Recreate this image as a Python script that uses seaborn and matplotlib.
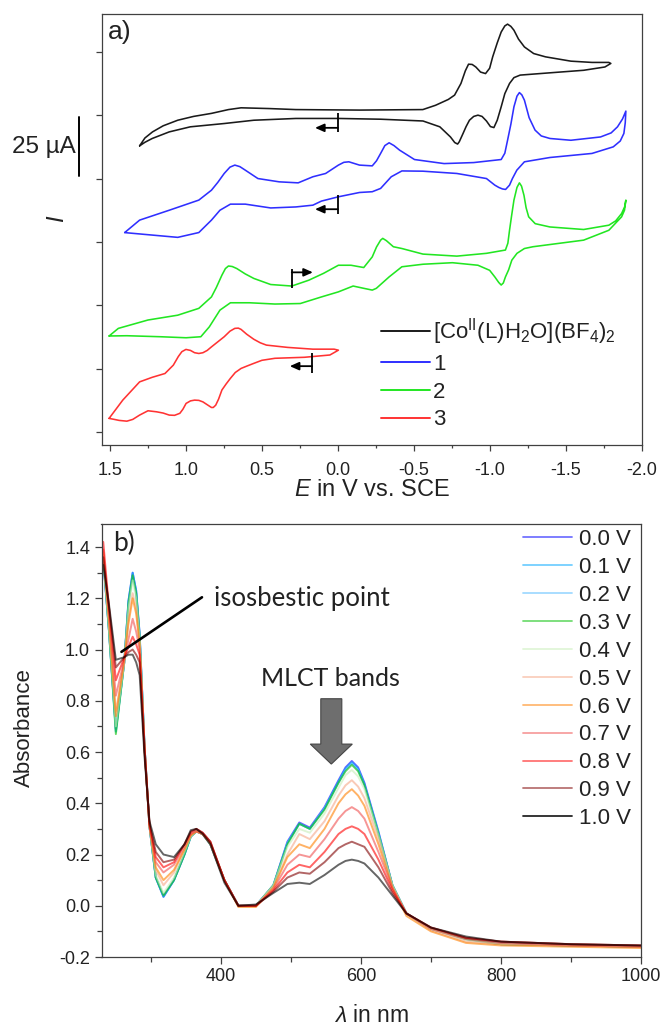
import numpy as np
import pandas as pd
import matplotlib
matplotlib.use("Agg")
import matplotlib.pyplot as plt
import matplotlib.ticker as mticker
import matplotlib.transforms as mtrans
from matplotlib.lines import Line2D
from matplotlib.patches import FancyArrow
import seaborn as sns

# ---------------- data: panel a) cyclic voltammograms (E in V, I in uA, offset) ----------------
E_blk = [1.305, 1.27, 1.22, 1.15, 1.054, 0.95, 0.832, 0.72, 0.637, 0.45,
         0.276, -0.143, -0.56, -0.644, -0.728, -0.769, -0.811, -0.84, -0.861, -0.885,
         -0.909, -0.94, -0.973, -1.0, -1.02, -1.05, -1.076, -1.10, -1.118, -1.14,
         -1.16, -1.19, -1.229, -1.29, -1.368, -1.535, -1.674, -1.785, -1.798, -1.759,
         -1.619, -1.397, -1.201, -1.16, -1.131, -1.10, -1.076, -1.05, -1.028, -1.005,
         -0.979, -0.95, -0.923, -0.895, -0.867, -0.845, -0.825, -0.80, -0.789, -0.77,
         -0.742, -0.672, -0.561, -0.282, -0.004, 0.276, 0.553, 0.748, 0.971, 1.11,
         1.222, 1.27, 1.305]
I_blk = [112.9, 116.0, 118.4, 120.8, 123.0, 124.5, 125.7, 127.2, 127.9, 127.6,
         127.2, 127.0, 127.2, 128.9, 131.2, 132.9, 137.5, 142.5, 145.1, 145.0,
         144.0, 142.0, 141.4, 143.5, 148.0, 153.5, 157.8, 160.2, 160.9, 160.0,
         158.5, 155.0, 151.9, 149.3, 148.0, 146.3, 145.8, 145.8, 145.4, 144.0,
         142.7, 141.7, 140.8, 139.8, 137.5, 133.5, 128.3, 123.0, 120.1, 120.5,
         122.7, 124.5, 125.0, 124.5, 123.0, 120.5, 117.8, 114.5, 113.6, 114.2,
         116.4, 120.4, 122.7, 123.4, 123.7, 123.7, 123.0, 121.7, 120.4, 118.4,
         115.8, 114.3, 112.9]

E_blu = [1.403, 1.305, 1.11, 0.915, 0.832, 0.79, 0.748, 0.71, 0.678, 0.645,
         0.609, 0.526, 0.386, 0.261, 0.164, 0.08, -0.004, -0.04, -0.073, -0.143,
         -0.227, -0.255, -0.282, -0.31, -0.338, -0.37, -0.407, -0.505, -0.70, -0.895,
         -1.076, -1.10, -1.118, -1.14, -1.16, -1.18, -1.196, -1.212, -1.229, -1.26,
         -1.299, -1.34, -1.397, -1.535, -1.73, -1.80, -1.842, -1.875, -1.897,
         -1.893, -1.884, -1.86, -1.814, -1.674, -1.397, -1.229, -1.179, -1.15, -1.131,
         -1.105, -1.084, -1.06, -1.034, -0.979, -0.784, -0.561, -0.422, -0.352, -0.282,
         -0.227, -0.143, -0.004, 0.108, 0.164, 0.276, 0.442, 0.609, 0.707, 0.776,
         0.832, 0.915, 1.054, 1.222, 1.389, 1.403]
I_blu = [78.7, 83.6, 87.5, 91.5, 95.4, 98.5, 102.0, 104.5, 105.3, 104.7,
         103.3, 100.0, 98.7, 98.3, 100.7, 102.0, 105.3, 106.4, 106.6, 105.3,
         105.0, 107.0, 109.9, 113.0, 114.1, 113.0, 111.2, 107.5, 105.9, 106.3,
         107.5, 110.0, 115.1, 121.5, 128.3, 132.5, 133.9, 133.0, 130.9, 124.0,
         119.1, 116.8, 115.8, 115.1, 116.4, 118.0, 120.4, 123.5, 126.6,
         122.0, 117.8, 114.8, 112.5, 109.9, 108.3, 106.6, 103.3, 100.0, 97.4,
         95.7, 95.9, 96.5, 97.4, 100.0, 102.0, 102.9, 103.0, 100.7, 96.1,
         94.8, 94.5, 92.8, 91.1, 89.5, 88.8, 88.4, 89.9, 89.9, 87.5,
         83.6, 78.7, 76.8, 77.7, 78.6, 78.7]

E_grn = [1.506, 1.445, 1.25, 1.054, 0.915, 0.832, 0.80, 0.763, 0.74, 0.72,
         0.695, 0.665, 0.61, 0.553, 0.442, 0.303, 0.191, 0.094, -0.004, -0.087,
         -0.171, -0.227, -0.255, -0.282, -0.296, -0.32, -0.366, -0.422, -0.561, -0.784,
         -0.979, -1.104, -1.12, -1.131, -1.145, -1.16, -1.18, -1.196, -1.21, -1.226,
         -1.24, -1.257, -1.30, -1.397, -1.619, -1.785, -1.83, -1.869, -1.89, -1.897,
         -1.888, -1.869, -1.785, -1.619, -1.452, -1.285, -1.229, -1.18, -1.146, -1.125,
         -1.104, -1.09, -1.076, -1.06, -1.034, -1.0, -0.923, -0.755, -0.561, -0.422,
         -0.338, -0.254, -0.227, -0.171, -0.101, -0.004, 0.108, 0.247, 0.414, 0.581,
         0.707, 0.776, 0.846, 0.902, 0.999, 1.166, 1.389, 1.506]
I_grn = [37.9, 40.9, 44.2, 46.1, 48.8, 53.3, 57.0, 61.9, 64.5, 65.5,
         65.3, 64.5, 62.4, 60.6, 58.2, 57.6, 59.9, 62.6, 65.8, 65.8,
         64.9, 69.1, 73.0, 75.7, 76.4, 75.5, 73.1, 72.4, 70.2, 69.4,
         70.5, 71.8, 74.5, 79.6, 85.5, 91.5, 96.5, 98.3, 97.0, 93.4,
         88.5, 84.9, 82.2, 80.9, 79.9, 81.6, 83.3, 86.2, 89.0, 91.5,
         87.5, 84.9, 79.6, 75.7, 74.4, 73.1, 72.4, 70.5, 67.8, 64.0,
         61.2, 58.8, 58.0, 59.0, 61.2, 63.8, 65.8, 66.8, 66.2, 65.2,
         61.2, 56.7, 56.0, 56.7, 57.6, 55.3, 53.3, 50.7, 50.5, 51.0,
         51.0, 48.1, 41.5, 37.6, 37.2, 37.6, 38.0, 37.9]

E_red = [1.506, 1.416, 1.305, 1.222, 1.138, 1.083, 1.05, 1.027, 1.0, 0.97,
         0.943, 0.915, 0.888, 0.86, 0.832, 0.79, 0.748, 0.71, 0.678, 0.655,
         0.637, 0.60, 0.553, 0.51, 0.47, 0.331, 0.164, 0.024, -0.004,
         0.052, 0.219, 0.414, 0.50, 0.553, 0.60, 0.637, 0.675, 0.707, 0.735,
         0.763, 0.785, 0.804, 0.82, 0.832, 0.86, 0.888, 0.915, 0.943, 0.97,
         0.999, 1.02, 1.04, 1.075, 1.11, 1.15, 1.194, 1.25, 1.305, 1.35,
         1.389, 1.44, 1.472, 1.506]
I_red = [5.4, 12.6, 19.8, 21.6, 23.1, 26.4, 29.8, 31.7, 32.6, 32.2,
         31.3, 31.0, 31.3, 32.2, 33.6, 35.6, 37.6, 39.8, 40.9, 41.0,
         40.5, 38.6, 36.6, 35.2, 34.3, 33.4, 32.7, 32.7, 32.3,
         30.4, 29.5, 29.1, 28.3, 27.1, 26.0, 25.1, 23.5, 21.2, 19.0,
         16.6, 13.0, 10.6, 9.7, 9.7, 10.8, 11.9, 12.5, 12.6, 12.3,
         11.3, 9.0, 7.4, 6.6, 6.7, 7.5, 8.0, 8.4, 6.7, 5.0,
         4.3, 4.6, 5.0, 5.4]

cv_labels = [r"[Co$^{\mathrm{II}}$(L)H$_2$O](BF$_4$)$_2$", "1", "2", "3"]
cv_colors = ["#1a1a1a", "#2f2fff", "#22e622", "#ff3333"]
# start-of-scan markers: (E at bar, I bottom, I top, I of arrow, E arrow tip)
scan_marks = [(0.0, 118.2, 125.7, 120.0, 0.15),
              (0.0, 86.2, 93.4, 87.9, 0.15),
              (0.303, 56.7, 64.2, 63.0, 0.164),
              (0.169, 23.4, 31.0, 26.0, 0.316)]
scale_bar = (100.9, 124.1)   # the "25 uA" bar

# ---------------- data: panel b) spectroelectrochemistry ----------------
lam = [232, 240, 250, 262, 268, 274, 279, 284, 291, 298, 307, 318, 333, 348, 357, 365, 374, 385, 405,
       425, 450, 475, 495, 512, 527, 548, 568, 578, 587, 596, 605, 625, 645, 665, 700, 750, 800, 900, 1000]
a00 = [1.35, 1.08, 0.69, 0.95, 1.19, 1.30, 1.23, 1.06, 0.62, 0.31, 0.11, 0.035, 0.10, 0.20, 0.27, 0.29, 0.28,
       0.24, 0.10, 0.00, 0.00, 0.08, 0.25, 0.325, 0.305, 0.385, 0.49, 0.54, 0.565, 0.54, 0.48, 0.29, 0.08,
       -0.03, -0.09, -0.13, -0.15, -0.155, -0.16]
a01 = [1.35, 1.08, 0.68, 0.95, 1.19, 1.30, 1.23, 1.06, 0.62, 0.31, 0.11, 0.035, 0.10, 0.20, 0.27, 0.29, 0.28,
       0.24, 0.10, 0.00, 0.00, 0.08, 0.245, 0.32, 0.30, 0.38, 0.485, 0.535, 0.56, 0.535, 0.475, 0.285, 0.08,
       -0.03, -0.09, -0.13, -0.15, -0.155, -0.16]
a02 = [1.35, 1.08, 0.68, 0.95, 1.18, 1.29, 1.22, 1.05, 0.62, 0.31, 0.11, 0.04, 0.10, 0.20, 0.27, 0.29, 0.28,
       0.24, 0.10, 0.00, 0.00, 0.08, 0.245, 0.32, 0.30, 0.38, 0.48, 0.53, 0.555, 0.53, 0.47, 0.285, 0.08,
       -0.03, -0.09, -0.13, -0.15, -0.155, -0.16]
a03 = [1.36, 1.08, 0.67, 0.95, 1.18, 1.29, 1.22, 1.05, 0.62, 0.31, 0.11, 0.04, 0.10, 0.20, 0.27, 0.29, 0.28,
       0.24, 0.10, 0.00, 0.00, 0.08, 0.24, 0.32, 0.30, 0.375, 0.48, 0.525, 0.55, 0.525, 0.47, 0.28, 0.08,
       -0.03, -0.09, -0.13, -0.15, -0.155, -0.16]
a04 = [1.36, 1.09, 0.70, 0.95, 1.16, 1.27, 1.20, 1.04, 0.62, 0.31, 0.12, 0.05, 0.11, 0.21, 0.27, 0.29, 0.28,
       0.24, 0.10, 0.00, 0.00, 0.08, 0.23, 0.30, 0.285, 0.36, 0.46, 0.51, 0.53, 0.505, 0.455, 0.275, 0.08,
       -0.03, -0.09, -0.135, -0.15, -0.155, -0.16]
a05 = [1.37, 1.11, 0.76, 0.95, 1.12, 1.22, 1.16, 1.02, 0.61, 0.31, 0.14, 0.08, 0.13, 0.22, 0.275, 0.29, 0.28,
       0.24, 0.10, 0.00, 0.00, 0.075, 0.20, 0.28, 0.26, 0.33, 0.43, 0.47, 0.49, 0.465, 0.42, 0.26, 0.075,
       -0.03, -0.095, -0.14, -0.15, -0.155, -0.16]
a06 = [1.38, 1.12, 0.74, 0.96, 1.10, 1.20, 1.14, 1.02, 0.61, 0.31, 0.15, 0.10, 0.14, 0.22, 0.275, 0.29, 0.28,
       0.245, 0.10, -0.005, -0.005, 0.07, 0.19, 0.24, 0.225, 0.30, 0.40, 0.435, 0.455, 0.43, 0.39, 0.24, 0.07,
       -0.04, -0.10, -0.145, -0.155, -0.16, -0.165]
a07 = [1.39, 1.14, 0.82, 0.96, 1.04, 1.12, 1.07, 1.00, 0.61, 0.31, 0.17, 0.13, 0.16, 0.23, 0.28, 0.29, 0.28,
       0.245, 0.10, 0.00, 0.00, 0.065, 0.16, 0.20, 0.19, 0.26, 0.34, 0.37, 0.385, 0.37, 0.34, 0.21, 0.07,
       -0.03, -0.09, -0.13, -0.145, -0.155, -0.16]
a08 = [1.42, 1.17, 0.88, 0.97, 1.01, 1.05, 1.02, 0.98, 0.62, 0.32, 0.19, 0.15, 0.17, 0.24, 0.285, 0.30, 0.285,
       0.25, 0.10, 0.00, 0.00, 0.06, 0.13, 0.16, 0.15, 0.21, 0.28, 0.30, 0.31, 0.30, 0.28, 0.18, 0.06,
       -0.03, -0.085, -0.125, -0.14, -0.15, -0.155]
a09 = [1.36, 1.17, 0.93, 0.97, 0.99, 1.00, 0.98, 0.95, 0.60, 0.32, 0.21, 0.17, 0.18, 0.24, 0.29, 0.30, 0.285,
       0.25, 0.10, 0.00, 0.00, 0.055, 0.11, 0.13, 0.125, 0.17, 0.225, 0.24, 0.25, 0.24, 0.23, 0.15, 0.05,
       -0.03, -0.085, -0.125, -0.14, -0.15, -0.155]
a10 = [1.33, 1.18, 0.96, 0.97, 0.98, 0.98, 0.95, 0.90, 0.58, 0.33, 0.24, 0.20, 0.19, 0.24, 0.295, 0.30, 0.28,
       0.24, 0.09, 0.00, 0.005, 0.05, 0.085, 0.09, 0.085, 0.12, 0.16, 0.175, 0.18, 0.175, 0.165, 0.11, 0.04,
       -0.03, -0.085, -0.12, -0.14, -0.15, -0.155]
spec_labels = ["0.0 V", "0.1 V", "0.2 V", "0.3 V", "0.4 V", "0.5 V", "0.6 V", "0.7 V", "0.8 V", "0.9 V", "1.0 V"]
spec_colors = ["#0000ff", "#00a8ff", "#55bbff", "#00c000", "#c8eeb8", "#f5a888",
               "#ff8000", "#f05050", "#ff0000", "#800000", "#000000"]
spectra = [a00, a01, a02, a03, a04, a05, a06, a07, a08, a09, a10]

# ---------------- style ----------------
sns.set_theme(style="ticks")
plt.rcParams["font.family"] = ["Liberation Sans", "DejaVu Sans"]
plt.rcParams["axes.unicode_minus"] = False
plt.rcParams["mathtext.fontset"] = "custom"
plt.rcParams["mathtext.rm"] = "Liberation Sans"
plt.rcParams["mathtext.it"] = "Liberation Sans:italic"
plt.rcParams["mathtext.default"] = "regular"

SPC = "#404040"
TXT = "#222222"
CAL = ["Lato", "DejaVu Sans"]

fig = plt.figure(figsize=(6.6, 10.25), dpi=100)
ax1 = fig.add_axes([101.5 / 660, 1 - 445 / 1025, 540 / 660, 431 / 1025])
ax2 = fig.add_axes([101.5 / 660, 1 - 957 / 1025, 539.5 / 660, 433 / 1025])

for ax in (ax1, ax2):
    for s in ax.spines.values():
        s.set_color(SPC)
        s.set_linewidth(0.9)
    ax.tick_params(which="both", direction="out", color=SPC, width=0.9, labelcolor=TXT, labelsize=13)
    ax.tick_params(top=False, right=False)
ax1.tick_params(which="major", length=4)
ax1.tick_params(which="minor", length=2.5)
ax1.tick_params(axis="x", pad=8.3)
ax2.tick_params(which="major", length=5)
ax2.tick_params(which="minor", length=3.5)
ax2.tick_params(pad=3.2)

# ---------------- panel a ----------------
for E, I, c in zip([E_blk, E_blu, E_grn, E_red], [I_blk, I_blu, I_grn, I_red], cv_colors):
    sns.lineplot(x=E, y=I, sort=False, estimator=None, color=c, lw=1.15, ax=ax1,
                 solid_joinstyle="round")

for (e0, ib, it, ia, etip) in scan_marks:
    ax1.plot([e0, e0], [ib, it], color="black", lw=1.3, solid_capstyle="butt")
    ax1.annotate("", xy=(etip, ia), xytext=(e0, ia),
                 arrowprops=dict(arrowstyle="-|>,head_length=0.45,head_width=0.2", color="black",
                                 lw=1.3, shrinkA=0, shrinkB=0))

ax1.set_xlim(1.556, -2.0)
ax1.set_ylim(-5.1, 164.9)
ax1.xaxis.set_major_locator(mticker.MultipleLocator(0.5))
ax1.xaxis.set_minor_locator(mticker.MultipleLocator(0.25))
ax1.xaxis.set_major_formatter(mticker.FormatStrFormatter("%.1f"))
ax1.set_yticks([0, 25, 50, 75, 100, 125, 150])
ax1.set_yticklabels([])
ax1.set_xlabel(r"$\mathit{E}$ in V vs. SCE", fontsize=17, color=TXT)
ax1.xaxis.set_label_coords(0.5, -0.1044)
ax1.xaxis.label.set_va("center")
ax1.set_ylabel("I", fontsize=17, style="italic", color=TXT)
ax1.yaxis.set_label_coords(-0.0824, 0.5255)
ax1.yaxis.label.set_va("center")
ax1.yaxis.label.set_ha("center")

ax1.text(0.012, 0.958, "a)", transform=ax1.transAxes, fontsize=19, color=TXT, ha="left", va="center")

# 25 uA scale bar
blend = mtrans.blended_transform_factory(ax1.transAxes, ax1.transData)
ax1.plot([-0.041, -0.041], list(scale_bar), transform=blend, clip_on=False, color="black", lw=1.4)
ax1.text(-0.0475, 112.5, "25 µA", transform=blend, ha="right", va="center", fontsize=17.5, color=TXT)

h1 = [Line2D([], [], color=c, lw=1.4) for c in cv_colors]
ax1.legend(h1, cv_labels, loc="upper left", bbox_to_anchor=(0.517, 0.298), frameon=False,
           fontsize=16, handlelength=2.2, handletextpad=0.15, labelspacing=0.30,
           borderpad=0, borderaxespad=0, labelcolor=TXT)

# ---------------- panel b ----------------
df = pd.DataFrame({
    "lam": np.tile(lam, len(spectra)),
    "A": np.concatenate(spectra),
    "V": np.repeat(spec_labels, len(lam)),
})
pal = dict(zip(spec_labels, spec_colors))
sns.lineplot(data=df, x="lam", y="A", hue="V", hue_order=spec_labels, palette=pal, sort=False,
             estimator=None, lw=1.4, alpha=0.6, legend=False, ax=ax2, solid_joinstyle="round")

ax2.set_xlim(229.5, 1000)
ax2.set_ylim(-0.2, 1.49)
ax2.xaxis.set_major_locator(mticker.FixedLocator([400, 600, 800, 1000]))
ax2.xaxis.set_minor_locator(mticker.FixedLocator([300, 500, 700, 900]))
ax2.yaxis.set_major_locator(mticker.MultipleLocator(0.2))
ax2.yaxis.set_minor_locator(mticker.MultipleLocator(0.1))
ax2.yaxis.set_major_formatter(mticker.FormatStrFormatter("%.1f"))
ax2.set_xlabel(r"$\mathit{\lambda}$ in nm", fontsize=16.5, color=TXT)
ax2.xaxis.set_label_coords(0.5, -0.134)
ax2.xaxis.label.set_va("center")
ax2.set_ylabel("Absorbance", fontsize=16, color=TXT)
ax2.yaxis.set_label_coords(-0.1437, 0.531)
ax2.yaxis.label.set_va("center")
ax2.yaxis.label.set_ha("center")

ax2.text(0.022, 0.955, "b)", transform=ax2.transAxes, fontsize=19, color=TXT, ha="left", va="center",
         family=CAL)

# isosbestic point annotation
ax2.plot([373, 258], [1.204, 0.991], color="black", lw=1.9, solid_capstyle="round")
ax2.text(390, 1.2, "isosbestic point", fontsize=18.5, color=TXT, ha="left", va="center", family=CAL)

# MLCT bands annotation
ax2.text(557, 0.886, "MLCT bands", fontsize=18, color=TXT, ha="center", va="center", family=CAL)
ax2.add_patch(FancyArrow(557.7, 0.808, 0, -0.255, width=30, head_width=60, head_length=0.078,
                         length_includes_head=True, fc="#6e6e6e", ec="#454545", lw=0.8))

h2 = [Line2D([], [], color=c, lw=1.3, alpha=(0.85 if c == "#000000" else 0.55)) for c in spec_colors]
ax2.legend(h2, spec_labels, loc="upper left", bbox_to_anchor=(0.782, 0.988), frameon=False,
           fontsize=16, handlelength=2.18, handletextpad=0.31, labelspacing=0.31,
           borderpad=0, borderaxespad=0, labelcolor=TXT)

fig.savefig("out.png", dpi=100, facecolor="white")
